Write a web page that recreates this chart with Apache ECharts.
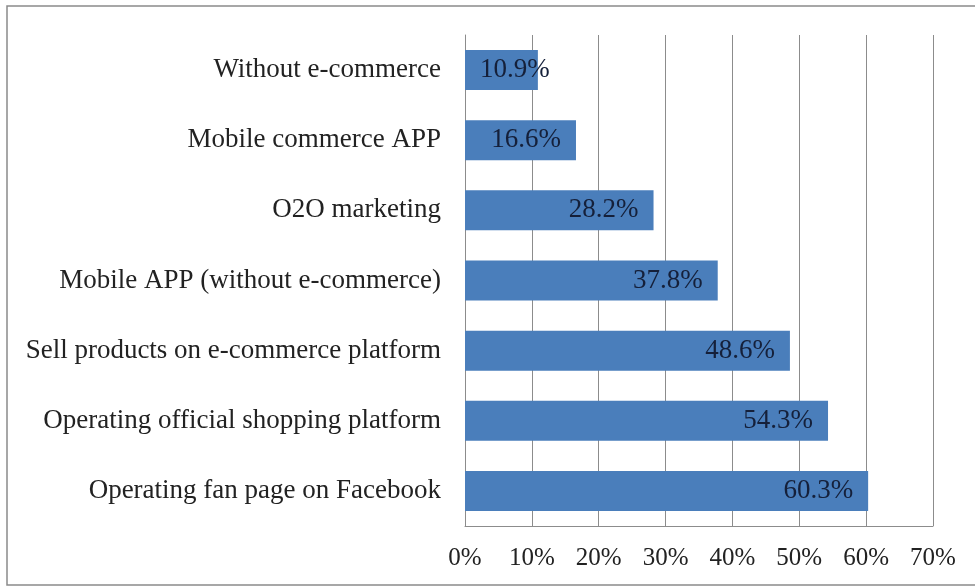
<!DOCTYPE html>
<html>
<head>
<meta charset="utf-8">
<script src="https://cdn.jsdelivr.net/npm/echarts@6/dist/echarts.min.js"></script>
<style>
  html, body { margin: 0; padding: 0; background: #fff; }
  #chart { width: 975px; height: 588px; }
</style>
</head>
<body>
<div id="chart"></div>
<script>
// Categories listed bottom-to-top (ECharts category y-axis starts at the bottom)
var categories = [
  'Operating fan page on Facebook',
  'Operating official shopping platform',
  'Sell products on e-commerce platform',
  'Mobile APP (without e-commerce)',
  'O2O marketing',
  'Mobile commerce APP',
  'Without e-commerce'
];
var shares = [60.3, 54.3, 48.6, 37.8, 28.2, 16.6, 10.9];
var tickValues = [0, 10, 20, 30, 40, 50, 60, 70];

var serif = '"Liberation Serif", "Times New Roman", serif';
var chart = echarts.init(document.getElementById('chart'));

// Short bars cannot hold their label at the inner end, so it is anchored at the bar start instead
var barData = shares.map(function (v) {
  var item = { value: v };
  if (v < 12) {
    item.label = { position: 'insideLeft', distance: 15 };
  }
  return item;
});

chart.setOption({
  animation: false,
  backgroundColor: '#fff',
  graphic: [{
    type: 'rect',
    shape: { x: 7, y: 6, width: 990, height: 579 },
    style: { fill: 'none', stroke: '#8a8a8a', lineWidth: 1.5 },
    silent: true
  }],
  grid: { left: 465, right: 42, top: 35, bottom: 62, containLabel: false },
  xAxis: {
    type: 'value',
    min: tickValues[0],
    max: tickValues[tickValues.length - 1],
    interval: 10,
    axisLine: { show: true, lineStyle: { color: '#8c8c8c', width: 1 } },
    axisTick: { show: false },
    splitLine: { show: true, lineStyle: { color: '#8c8c8c', width: 1 } },
    axisLabel: {
      formatter: function (v) { return v + '%'; },
      fontFamily: serif,
      fontSize: 25,
      color: '#222',
      margin: 20
    }
  },
  yAxis: {
    type: 'category',
    data: categories,
    axisLine: { show: true, lineStyle: { color: '#8c8c8c', width: 1 } },
    axisTick: { show: false },
    axisLabel: {
      fontFamily: serif,
      fontSize: 27,
      color: '#222',
      margin: 24
    }
  },
  series: [{
    type: 'bar',
    data: barData,
    barCategoryGap: '43%',
    itemStyle: { color: '#4a7ebb' },
    label: {
      show: true,
      position: 'insideRight',
      distance: 15,
      formatter: function (p) { return p.value.toFixed(1) + '%'; },
      fontFamily: serif,
      fontSize: 27,
      color: '#15203a'
    }
  }]
});
</script>
</body>
</html>
